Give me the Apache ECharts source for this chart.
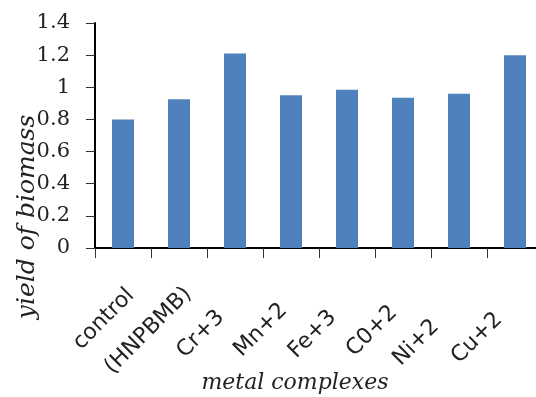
<!DOCTYPE html>
<html>
<head>
<meta charset="utf-8">
<script src="https://cdn.jsdelivr.net/npm/echarts@6/dist/echarts.min.js"></script>
<style>html,body{margin:0;padding:0;background:#fff}#c{width:536px;height:397px}</style>
</head>
<body>
<div id="c"></div>
<script>
const categories = ['control', '(HNPBMB)', 'Cr+3', 'Mn+2', 'Fe+3', 'C0+2', 'Ni+2', 'Cu+2'];
const yieldValues = [0.80, 0.925, 1.21, 0.95, 0.985, 0.935, 0.96, 1.20];
const yTicks = [0, 0.2, 0.4, 0.6, 0.8, 1, 1.2, 1.4];
const xTitle = 'metal complexes';
const yTitle = 'yield of biomass';

// label end shift back along the text direction, px (layout only)
const labelShift = [-11, -13, 20, 10, 20, 13, 33, 23];

const chart = echarts.init(document.getElementById('c'), null, {renderer: 'canvas'});
chart.setOption({
  animation: false,
  grid: {left: 95, top: 23, width: 448, height: 225, outerBoundsMode: 'none', containLabel: false},
  xAxis: {
    type: 'category',
    data: categories.map((c, i) => ({
      value: c,
      textStyle: {padding: [0, labelShift[i], 0, 0]}
    })),
    axisLine: {lineStyle: {color: '#000', width: 2}},
    axisTick: {show: true, alignWithLabel: false, length: 10, lineStyle: {color: '#333', width: 1}},
    axisLabel: {
      interval: 0, rotate: 45, margin: 52,
      fontFamily: 'DejaVu Sans', fontSize: 22, color: '#222', hideOverlap: false
    }
  },
  yAxis: {
    type: 'value', min: 0, max: 1.4, interval: 0.2,
    splitLine: {show: false},
    axisLine: {show: true, lineStyle: {color: '#000', width: 2}},
    axisTick: {show: true, length: 9, lineStyle: {color: '#333', width: 1}},
    axisLabel: {
      margin: 25, fontFamily: 'DejaVu Serif', fontSize: 21, color: '#222',
      formatter: v => { const t = yTicks.find(x => Math.abs(x - v) < 1e-9); return t === undefined ? '' : String(t); }
    }
  },
  series: [{
    type: 'bar', data: yieldValues, barWidth: 22,
    itemStyle: {color: '#4F81BD'}
  }],
  graphic: [
    {type: 'text', position: [295, 383], style: {text: xTitle, font: 'italic 22px "DejaVu Serif"', fill: '#222', textAlign: 'center', textVerticalAlign: 'middle'}},
    {type: 'text', rotation: Math.PI / 2, position: [27, 217], style: {text: yTitle, font: 'italic 25px "DejaVu Serif"', fill: '#222', textAlign: 'center', textVerticalAlign: 'middle'}}
  ]
});
</script>
</body>
</html>
